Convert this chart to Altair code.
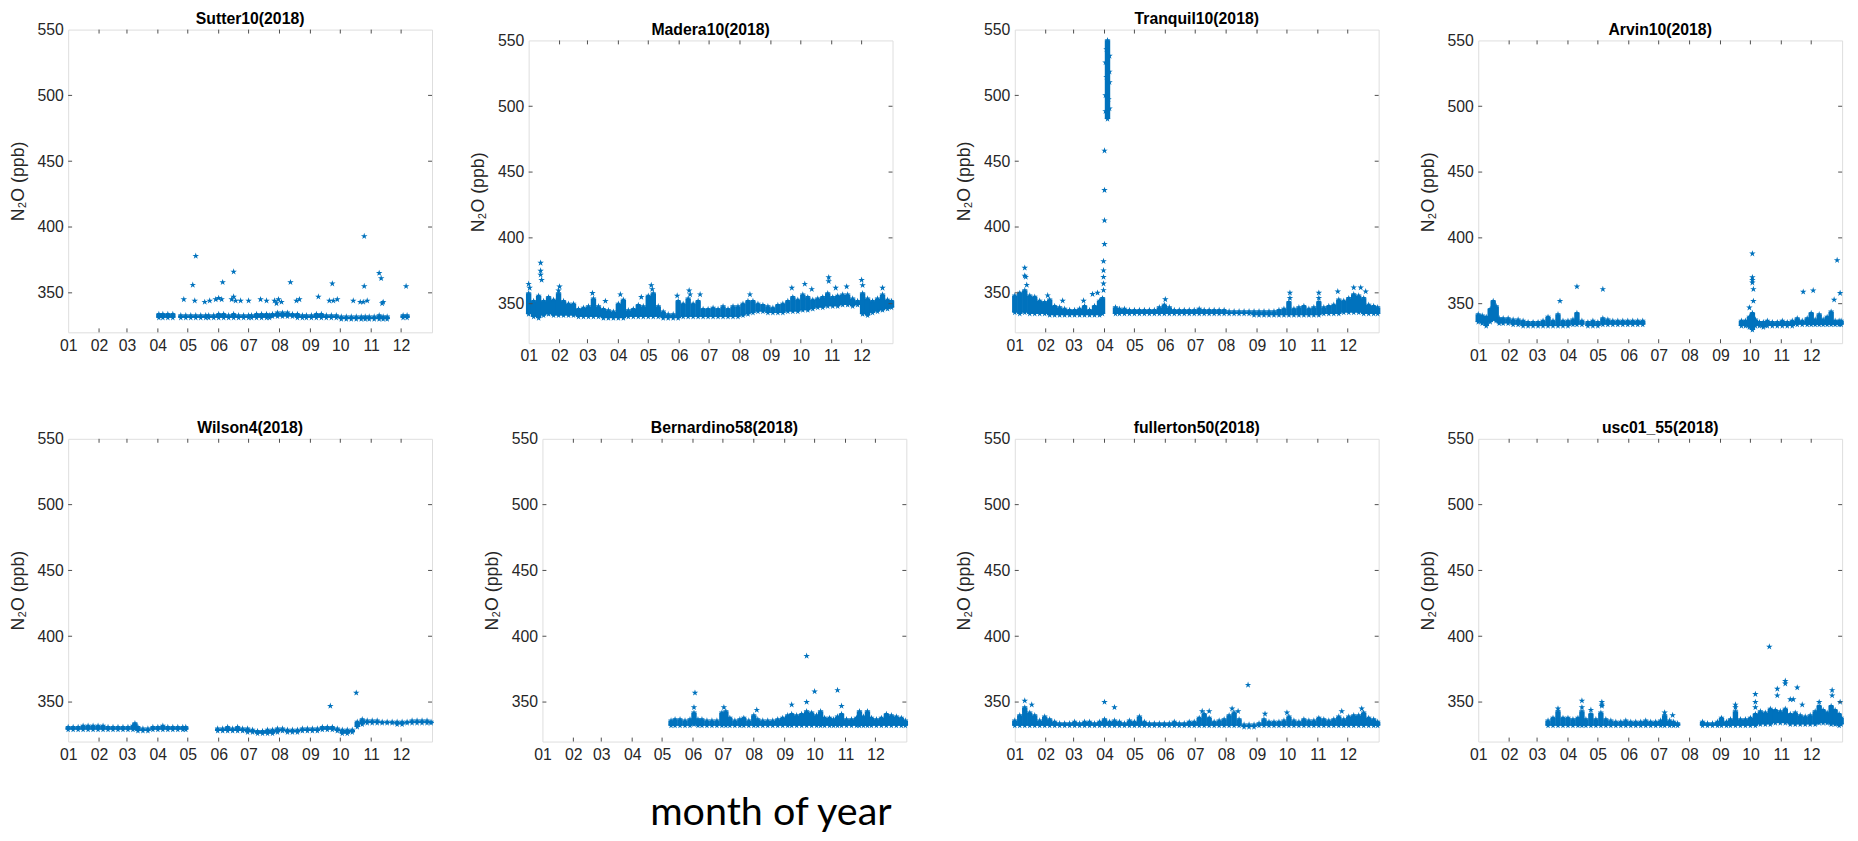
import altair as alt
import pandas as pd

BLUE = "#0072BD"
STAR = "M0,-1L0.2245,-0.309L0.9511,-0.309L0.3633,0.118L0.5878,0.809L0,0.382L-0.5878,0.809L-0.3633,0.118L-0.9511,-0.309L-0.2245,-0.309Z"
FONT = "Liberation Sans"

month_days = [0, 31, 59, 90, 120, 151, 181, 212, 243, 273, 304, 334]
month_labels = ["01", "02", "03", "04", "05", "06", "07", "08", "09", "10", "11", "12"]
y_ticks = [350, 400, 450, 500, 550]

# ---------------- Sutter10 ----------------
sutter_day = [91, 95, 100, 105, 113, 118, 123, 128, 133, 138, 141, 146, 151, 156, 161, 166, 171, 176, 181, 184,
              189, 194, 199, 202, 205, 210, 215, 220, 225, 230, 235, 239, 244, 249, 254, 259, 264, 269, 274, 279,
              284, 289, 294, 298, 302, 307, 312, 316, 320, 336, 340]
sutter_lo = [331, 331, 331, 331, 331, 331, 331, 331, 331, 331, 331, 331, 331, 331, 331, 331, 331, 331, 331, 331,
             331, 331, 331, 331, 332, 332, 332, 332, 332, 331, 331, 331, 331, 331, 331, 331, 331, 331, 330, 330,
             330, 330, 330, 330, 330, 330, 330, 330, 330, 331, 331]
sutter_hi = [334, 334, 334, 334, 333, 333, 333, 333, 333, 333, 333, 333, 334, 334, 333, 334, 333, 333, 333, 333,
             334, 334, 334, 333, 334, 335, 335, 335, 334, 334, 333, 333, 333, 334, 334, 333, 333, 333, 332, 332,
             332, 332, 332, 332, 332, 332, 333, 332, 332, 333, 333]
sutter_pt_day = [116, 127, 137, 142, 148, 151, 154, 164, 166, 168, 173, 181, 193, 199, 207, 209, 211, 214, 229, 232,
                 251, 262, 266, 270, 286, 293, 296, 300, 315, 316,
                 128, 125, 155, 166, 223, 265, 297, 297, 312, 314, 339]
sutter_pt_val = [345, 344, 343, 344, 345, 346, 345, 345, 347, 344, 344, 344, 345, 344, 344, 342, 345, 343, 344, 345,
                 347, 344, 344, 345, 344, 343, 343, 344, 342, 343,
                 378, 356, 358, 366, 358, 357, 393, 355, 365, 361, 355]

# ---------------- Madera10 ----------------
madera_day = [0, 5, 10, 15, 20, 25, 30, 35, 40, 45, 50, 55, 60, 65, 70, 75, 80, 85, 90, 95, 100, 105, 110, 115,
              120, 125, 130, 135, 140, 145, 150, 155, 160, 165, 170, 175, 180, 185, 190, 195, 200, 205, 210, 215,
              220, 225, 230, 235, 240, 245, 250, 255, 260, 265, 270, 275, 280, 285, 290, 295, 300, 305, 310, 315,
              320, 325, 330, 335, 340, 345, 350, 355, 360, 364]
madera_lo = [342, 340, 339, 341, 342, 341, 341, 341, 341, 341, 340, 340, 340, 340, 340, 339, 339, 339, 339, 339,
             340, 340, 340, 340, 340, 340, 340, 339, 339, 339, 339, 340, 340, 340, 340, 340, 340, 340, 340, 340,
             340, 340, 340, 341, 342, 343, 344, 344, 343, 343, 343, 343, 344, 344, 344, 345, 345, 346, 347, 347,
             348, 348, 348, 349, 349, 348, 349, 342, 341, 343, 344, 345, 346, 347]
madera_hi = [358, 352, 356, 352, 355, 353, 358, 352, 350, 350, 346, 347, 348, 354, 348, 346, 345, 344, 350, 353,
             345, 346, 349, 348, 356, 358, 348, 344, 342, 342, 352, 350, 354, 350, 352, 346, 346, 347, 346, 348,
             346, 348, 348, 350, 352, 352, 350, 349, 348, 347, 349, 350, 352, 355, 353, 357, 355, 353, 354, 355,
             358, 355, 356, 357, 357, 354, 352, 358, 354, 352, 354, 357, 353, 352]
madera_pt_day = [0, 1, 12, 12, 12, 13, 31, 30, 64, 77, 92, 113, 123, 124, 149, 161, 162, 172, 222, 264, 277, 284,
                 301, 301, 308, 319, 334, 335, 355]
madera_pt_val = [365, 362, 381, 375, 372, 368, 363, 360, 358, 352, 357, 355, 364, 361, 356, 360, 357, 357, 357, 362,
                 365, 361, 370, 367, 362, 363, 368, 364, 362]

# ---------------- Tranquil10 ----------------
tranquil_day = [0, 5, 10, 15, 20, 25, 30, 35, 40, 45, 50, 55, 60, 65, 70, 75, 80, 85, 88, 93,
                101, 105, 110, 115, 120, 125, 130, 135, 140, 145, 150, 155, 160, 165, 170, 175, 180, 185, 190, 195,
                200, 205, 210, 215, 220, 225, 230, 235, 240, 245, 250, 255, 260, 265, 270, 275, 280, 285, 290, 295,
                300, 305, 310, 315, 320, 325, 330, 335, 340, 345, 350, 355, 360, 364]
tranquil_lo = [335, 334, 335, 334, 334, 334, 334, 333, 333, 333, 333, 333, 333, 333, 333, 333, 333, 333, 334, 482,
               334, 334, 334, 334, 334, 334, 334, 334, 334, 334, 334, 334, 334, 334, 334, 334, 334, 334, 334, 334,
               334, 334, 334, 334, 334, 334, 334, 334, 333, 333, 333, 333, 333, 333, 333, 333, 333, 333, 333, 333,
               333, 333, 334, 334, 334, 334, 335, 335, 335, 335, 334, 334, 334, 334]
tranquil_hi = [348, 350, 352, 348, 347, 344, 343, 345, 340, 339, 338, 337, 337, 338, 340, 337, 340, 344, 346, 542,
               339, 338, 338, 337, 337, 337, 337, 337, 337, 339, 341, 339, 337, 337, 337, 337, 337, 338, 337, 337,
               337, 337, 337, 336, 336, 336, 336, 336, 336, 336, 336, 336, 336, 337, 338, 343, 338, 339, 340, 338,
               339, 343, 339, 340, 341, 345, 344, 346, 349, 348, 346, 341, 340, 339]
tranquil_pt_day = [10, 10, 11, 12, 33, 48, 69, 78, 83, 89, 89, 89, 89, 89, 90, 90, 90, 90, 151, 276, 276, 305, 305,
                   324, 340, 347, 352,
                   91, 95, 91, 95, 92, 95, 91, 95, 94, 92]
tranquil_pt_val = [369, 363, 362, 356, 348, 344, 344, 349, 350, 352, 357, 362, 367, 374, 387, 405, 428, 458, 345, 350,
                   346, 350, 346, 351, 354, 354, 351,
                   500, 510, 525, 490, 535, 530, 488, 518, 497, 514]

# ---------------- Arvin10 ----------------
arvin_day = [0, 4, 8, 12, 15, 18, 21, 25, 30, 35, 40, 45, 50, 55, 60, 65, 70, 75, 80, 85, 90, 95, 99, 104, 110,
             115, 120, 125, 130, 135, 140, 145, 150, 155, 160, 165,
             264, 268, 272, 275, 278, 282, 286, 290, 295, 300, 305, 310, 315, 320, 325, 330, 334, 338, 342, 346,
             350, 354, 358, 362, 364]
arvin_lo = [336, 335, 333, 336, 338, 337, 335, 335, 335, 334, 334, 333, 333, 333, 333, 333, 333, 333, 333, 333, 333,
            334, 334, 334, 333, 333, 333, 334, 334, 334, 334, 334, 334, 334, 334, 334,
            333, 333, 332, 330, 333, 333, 332, 333, 333, 333, 333, 333, 333, 334, 334, 334, 334, 334, 334, 334,
            334, 334, 334, 334, 334]
arvin_hi = [342, 341, 340, 346, 352, 348, 339, 339, 339, 338, 338, 337, 336, 336, 336, 337, 340, 337, 342, 337, 337,
            338, 343, 337, 336, 337, 336, 339, 338, 337, 337, 337, 337, 337, 337, 337,
            337, 337, 340, 343, 338, 336, 336, 337, 336, 336, 337, 336, 337, 339, 337, 339, 343, 338, 342, 338,
            340, 344, 337, 337, 337]
arvin_pt_day = [82, 99, 125, 272, 275, 275, 275, 275, 276, 276, 326, 336, 357, 360, 363]
arvin_pt_val = [352, 363, 361, 347, 388, 370, 368, 366, 361, 352, 359, 360, 353, 383, 358]

# ---------------- Wilson4 ----------------
wilson_day = [0, 5, 10, 15, 20, 25, 30, 35, 40, 45, 50, 55, 60, 65, 67, 70, 75, 80, 85, 90, 95, 100, 105, 110,
              115, 118,
              150, 155, 160, 165, 170, 175, 180, 185, 190, 195, 200, 205, 210, 215, 220, 225, 230, 235, 240, 245,
              250, 255, 260, 265, 270, 275, 280, 285, 290, 295, 300, 305, 310, 315, 320, 325, 330, 335, 340, 345,
              350, 355, 360, 364]
wilson_lo = [329, 329, 329, 329, 329, 329, 329, 329, 329, 329, 329, 329, 329, 329, 330, 328, 328, 328, 329, 329, 329,
             329, 329, 329, 329, 329,
             328, 328, 328, 328, 328, 328, 327, 327, 326, 326, 326, 326, 327, 328, 327, 327, 327, 328, 328, 328,
             328, 329, 329, 329, 328, 326, 326, 327, 331, 333, 334, 334, 334, 334, 334, 334, 333, 333, 334, 334,
             334, 334, 334, 334]
wilson_hi = [331, 331, 331, 332, 332, 332, 332, 332, 331, 331, 331, 331, 331, 332, 334, 331, 330, 330, 331, 331, 332,
             331, 331, 331, 331, 331,
             330, 330, 331, 330, 331, 330, 330, 329, 328, 328, 329, 329, 330, 330, 329, 329, 329, 330, 330, 330,
             330, 331, 331, 331, 330, 329, 329, 329, 335, 337, 336, 336, 336, 335, 335, 335, 335, 335, 335, 336,
             336, 336, 336, 335]
wilson_pt_day = [263, 289]
wilson_pt_val = [347, 357]

# ---------------- Bernardino58 ----------------
bern_day = [129, 133, 138, 143, 148, 152, 156, 160, 165, 170, 175, 180, 184, 188, 193, 198, 202, 207, 212, 216,
            221, 226, 231, 236, 241, 246, 250, 255, 260, 265, 270, 275, 279, 283, 288, 292, 296, 300, 305, 310,
            315, 318, 322, 326, 330, 335, 340, 345, 350, 355, 360, 364]
bern_lo = [332, 332, 332, 332, 332, 333, 332, 332, 332, 332, 332, 332, 332, 332, 332, 332, 332, 332, 332, 332,
           332, 332, 332, 332, 332, 332, 332, 332, 332, 332, 332, 332, 332, 332, 332, 332, 332, 332, 332, 332,
           332, 332, 332, 332, 332, 332, 332, 332, 332, 332, 332, 332]
bern_hi = [336, 337, 337, 336, 337, 342, 337, 337, 336, 336, 336, 342, 343, 338, 336, 337, 338, 336, 340, 337,
           336, 336, 336, 337, 338, 340, 341, 340, 341, 343, 342, 340, 343, 338, 338, 337, 339, 341, 337, 337,
           338, 343, 339, 343, 338, 337, 338, 341, 340, 339, 338, 336]
bern_pt_day = [153, 152, 182, 215, 250, 265, 265, 273, 296, 300]
bern_pt_val = [357, 346, 346, 344, 348, 385, 350, 358, 359, 347]

# ---------------- fullerton50 ----------------
full_day = [0, 5, 10, 15, 20, 25, 30, 35, 40, 45, 50, 55, 60, 65, 70, 75, 80, 85, 90, 95, 100, 105, 110, 115,
            120, 125, 130, 135, 140, 145, 150, 155, 160, 165, 170, 175, 180, 185, 190, 195, 200, 205, 210, 215,
            220, 225, 230, 235, 240, 245, 250, 255, 260, 265, 270, 275, 280, 285, 290, 295, 300, 305, 310, 315,
            320, 325, 330, 335, 340, 345, 350, 355, 360, 364]
full_lo = [332, 332, 332, 332, 332, 332, 332, 332, 332, 332, 332, 332, 332, 332, 332, 332, 332, 332, 332, 332,
           332, 332, 332, 332, 332, 332, 332, 332, 332, 332, 332, 332, 332, 332, 332, 332, 332, 332, 332, 332,
           332, 332, 332, 332, 332, 332, 331, 331, 331, 332, 332, 332, 332, 332, 332, 332, 332, 332, 332, 332,
           332, 332, 332, 332, 332, 332, 332, 332, 332, 332, 332, 332, 332, 332]
full_hi = [336, 340, 346, 342, 340, 336, 339, 337, 335, 334, 334, 334, 335, 334, 335, 335, 334, 335, 337, 335,
           336, 335, 334, 336, 335, 339, 335, 334, 334, 334, 334, 334, 335, 334, 334, 335, 335, 338, 341, 338,
           335, 336, 337, 340, 342, 337, 333, 333, 333, 334, 337, 335, 335, 335, 336, 339, 336, 335, 337, 336,
           336, 338, 337, 336, 337, 339, 337, 339, 340, 340, 342, 338, 337, 335]
full_pt_day = [10, 17, 90, 100, 188, 195, 218, 224, 234, 251, 273, 328, 348]
full_pt_val = [351, 348, 350, 346, 343, 343, 345, 343, 363, 341, 342, 343, 345]

# ---------------- usc01_55 ----------------
usc_day = [70, 75, 80, 85, 90, 95, 100, 104, 108, 113, 118, 123, 128, 133, 138, 143, 148, 153, 158, 163, 168,
           173, 178, 183, 187, 192, 196, 200,
           225, 230, 235, 240, 244, 249, 253, 258, 263, 268, 273, 278, 283, 288, 293, 298, 303, 308, 313, 318,
           323, 328, 333, 338, 342, 346, 350, 354, 358, 362, 364]
usc_lo = [332, 332, 332, 332, 332, 332, 332, 332, 332, 332, 332, 332, 332, 332, 332, 332, 332, 332, 332, 332, 332,
          332, 332, 332, 332, 332, 332, 332,
          332, 332, 332, 332, 332, 332, 332, 332, 332, 332, 332, 332, 333, 333, 333, 334, 334, 334, 333, 333,
          333, 333, 333, 333, 334, 334, 334, 333, 333, 332, 333]
usc_hi = [336, 338, 343, 338, 338, 337, 338, 343, 337, 341, 337, 342, 337, 336, 335, 335, 336, 335, 335, 335, 336,
          335, 335, 336, 340, 336, 335, 334,
          335, 334, 334, 335, 338, 335, 337, 343, 337, 337, 338, 341, 343, 342, 345, 344, 343, 345, 341, 342,
          340, 339, 340, 343, 347, 344, 342, 347, 344, 341, 338]
usc_pt_day = [80, 104, 104, 113, 124, 124, 124, 187, 195, 258, 258, 278, 278, 278, 292, 300, 300, 308, 308, 313,
              320, 316, 325, 342, 355, 355, 363]
usc_pt_val = [345, 351, 346, 344, 350, 348, 347, 342, 340, 348, 346, 356, 350, 346, 392, 360, 355, 366, 364, 352,
              361, 352, 348, 350, 359, 355, 350]

W, H = 369, 307
TICK = 4

label_expr = "[" + ",".join("'%s'" % m for m in month_labels) + "][indexof([" + ",".join(str(d) for d in month_days) + "], datum.value)]"

x_scale = alt.Scale(domain=[0, 365], nice=False, zero=False)
y_scale = alt.Scale(domain=[320, 550], nice=False, zero=False)
x_axis = alt.Axis(values=month_days, labelExpr=label_expr, ticks=False, tickSize=0, domain=False, grid=False,
                  labelFontSize=16, labelColor="#262626", labelFont=FONT, labelPadding=5,
                  labelFlush=False, labelOverlap=False, labelBound=False)
y_axis = alt.Axis(values=y_ticks, ticks=False, tickSize=0, domain=False, grid=False,
                  labelFontSize=16, labelColor="#262626", labelFont=FONT, labelPadding=5,
                  labelFlush=False, labelOverlap=False, labelBound=False,
                  titleFontSize=18, titleFont=FONT, titleFontWeight="normal", titleColor="#262626",
                  titlePadding=10)
YT = "N₂O (ppb)"


def X(field="day"):
    return alt.X(field + ":Q", scale=x_scale, axis=x_axis, title=None)


def Y(field):
    return alt.Y(field + ":Q", scale=y_scale, axis=y_axis, title=YT)


def panel(title, bd, blo, bhi, pdays, pvals):
    band = pd.DataFrame({"day": bd, "lo": blo, "hi": bhi})
    pts = pd.DataFrame({"day": pdays, "v": pvals})
    xt = pd.DataFrame({"day": month_days[1:]})
    yt = pd.DataFrame({"v": y_ticks[:-1]})

    rules = alt.Chart(band).mark_rule(color=BLUE, strokeWidth=5.5).encode(x=X(), y=Y("lo"), y2="hi:Q")
    star_kw = dict(shape=STAR, filled=True, size=42, color=BLUE, opacity=1, strokeWidth=0)
    lo_pts = alt.Chart(band).mark_point(**star_kw).encode(x=X(), y=Y("lo"))
    hi_pts = alt.Chart(band).mark_point(**star_kw).encode(x=X(), y=Y("hi"))
    extra = alt.Chart(pts).mark_point(**dict(star_kw, size=48)).encode(x=X(), y=Y("v"))
    tick_kw = dict(color="#4d4d4d", strokeWidth=1)
    xb = alt.Chart(xt).mark_rule(**tick_kw).encode(x=X(), y=alt.value(H), y2=alt.value(H - TICK))
    xtp = alt.Chart(xt).mark_rule(**tick_kw).encode(x=X(), y=alt.value(0), y2=alt.value(TICK))
    yl = alt.Chart(yt).mark_rule(**tick_kw).encode(y=Y("v"), x=alt.value(0), x2=alt.value(TICK))
    yr = alt.Chart(yt).mark_rule(**tick_kw).encode(y=Y("v"), x=alt.value(W), x2=alt.value(W - TICK))
    return alt.layer(rules, lo_pts, hi_pts, extra, xb, xtp, yl, yr).properties(
        width=W, height=H,
        title=alt.TitleParams(title, font=FONT, fontSize=16, fontWeight="bold", color="#000000",
                              offset=-5, anchor="middle"))


def spacer(h):
    return alt.Chart(pd.DataFrame({"a": [0]})).mark_rule(opacity=0).encode(
        x=alt.value(0), x2=alt.value(1), y=alt.value(0)).properties(
        width=W, height=h, view=alt.ViewBackground(stroke="transparent"))


def shifted(p, h):
    return alt.vconcat(spacer(h), p, spacing=0)


p1 = panel("Sutter10(2018)", sutter_day, sutter_lo, sutter_hi, sutter_pt_day, sutter_pt_val)
p2 = panel("Madera10(2018)", madera_day, madera_lo, madera_hi, madera_pt_day, madera_pt_val)
p3 = panel("Tranquil10(2018)", tranquil_day, tranquil_lo, tranquil_hi, tranquil_pt_day, tranquil_pt_val)
p4 = panel("Arvin10(2018)", arvin_day, arvin_lo, arvin_hi, arvin_pt_day, arvin_pt_val)
p5 = panel("Wilson4(2018)", wilson_day, wilson_lo, wilson_hi, wilson_pt_day, wilson_pt_val)
p6 = panel("Bernardino58(2018)", bern_day, bern_lo, bern_hi, bern_pt_day, bern_pt_val)
p7 = panel("fullerton50(2018)", full_day, full_lo, full_hi, full_pt_day, full_pt_val)
p8 = panel("usc01_55(2018)", usc_day, usc_lo, usc_hi, usc_pt_day, usc_pt_val)

row1 = alt.hconcat(
    alt.hconcat(shifted(p1, 1), shifted(p2, 12), spacing=36),
    alt.hconcat(shifted(p3, 1), shifted(p4, 12), spacing=37),
    spacing=60)
row2 = alt.hconcat(alt.hconcat(p5, p6, spacing=48), alt.hconcat(p7, p8, spacing=37), spacing=46)

chart = alt.vconcat(row1, row2, spacing=55).properties(
    title=alt.TitleParams("month of year", orient="bottom", fontSize=40, font="Lato",
                          fontWeight="normal", color="#000000", anchor="middle", dx=-158, offset=31),
    padding={"left": 0, "top": -7, "right": 5, "bottom": 5},
).configure_view(stroke="#a6a6a6", strokeWidth=1).configure_axis(labelOverlap=False).configure_concat(
    spacing=0).configure(background="white")

chart.save("out.html", embed_options={"renderer": "svg", "actions": False})
